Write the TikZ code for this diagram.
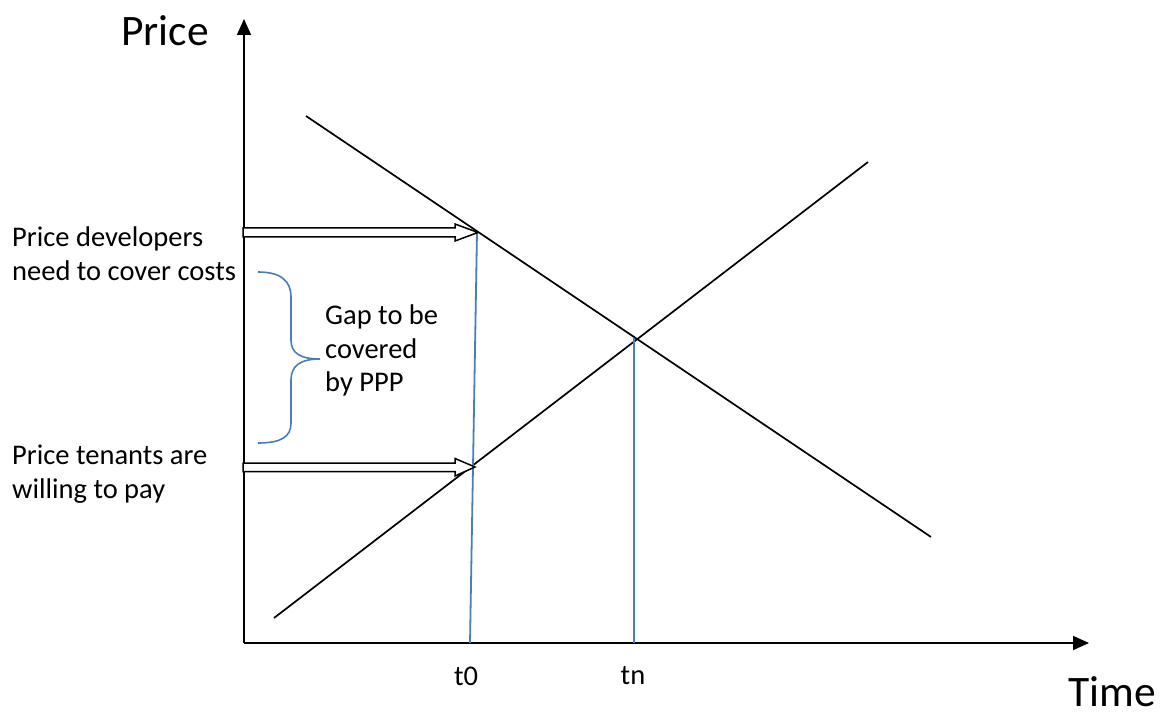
\documentclass[tikz,border=0pt]{standalone}
\usepackage{fontspec}
\setmainfont{Carlito}
\usetikzlibrary{arrows.meta}
\definecolor{offblue}{RGB}{74,126,187}
\tikzset{
  blk/.style={line width=1.7pt,black},
  axis/.style={line width=1.7pt,-{Triangle[length=16pt,width=14pt]}},
  bline/.style={line width=1.8pt,offblue},
  blockarrow/.style={line width=1.5pt,fill=white,line join=miter},
  lbl/.style={font=\fontsize{28.5}{33.5}\selectfont,align=left,inner sep=0pt},
  big/.style={font=\fontsize{43.5}{46}\selectfont,inner sep=0pt},
}
\begin{document}
\begin{tikzpicture}[x=1pt,y=-1pt]
\useasboundingbox (0,0) rectangle (1172,719);
% coordinates
\coordinate (O) at (244,643);
\coordinate (Ytop) at (244,19);
\coordinate (Xend) at (1089,643);
\coordinate (Fa) at (306,116);
\coordinate (Fb) at (931,537);
\coordinate (Ra) at (274,618);
\coordinate (Rb) at (868,162);
\coordinate (T0b) at (470,643);
\coordinate (T0t) at (477,232);
\coordinate (TNb) at (634,643);
\coordinate (TNt) at (634,338);
% axes
\draw[axis] (O) -- (Ytop);
\draw[axis] (O) -- (Xend);
% lines
\draw[blk] (Fa) -- (Fb);
\draw[blk] (Ra) -- (Rb);
% blue verticals
\draw[bline] (T0b) -- (T0t);
\draw[bline] (TNb) -- (TNt);
% block arrows
\draw[blockarrow] (243,228) -- (455,228) -- (455,224) -- (478,232.5) -- (455,241) -- (455,237) -- (243,237) -- cycle;
\draw[blockarrow] (243,463) -- (455,463) -- (455,458.5) -- (475,467) -- (455,476) -- (455,471.5) -- (243,471.5) -- cycle;
% brace
\draw[bline,line width=1.6pt] (258,272) .. controls (281,272) and (291,281) .. (291,297) -- (291,340) .. controls (291,353) and (300,359) .. (320,359) .. controls (300,359) and (291,366) .. (291,380) -- (291,423) .. controls (291,437) and (281,443) .. (258,443);
% texts
\node[big,anchor=west] (price) at (121,31) {Price};
\node[big,anchor=base west] (time) at (1068,706) {Time};
\node[lbl,anchor=north west] (dev) at (12,227) {Price developers\\need to cover costs};
\node[lbl,anchor=north west] (ten) at (12,445) {Price tenants are\\willing to pay};
\node[lbl,anchor=north west] (gap) at (325,305) {Gap to be\\covered\\by PPP};
\node[lbl] (t0) at (466,676) {t0};
\node[lbl] (tn) at (633,676) {tn};
\end{tikzpicture}
\end{document}
